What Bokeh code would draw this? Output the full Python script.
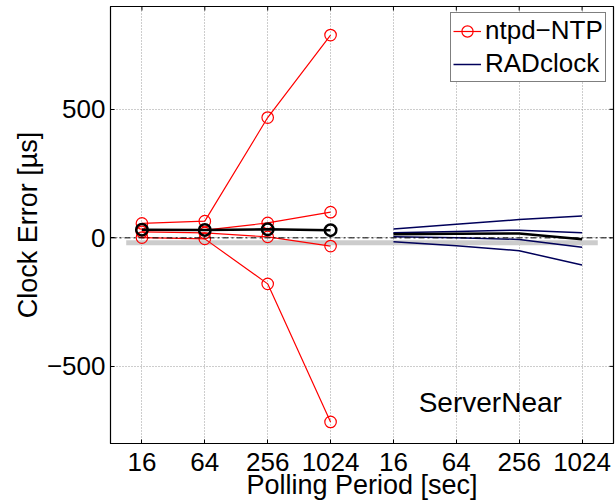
from bokeh.plotting import figure
from bokeh.models import FixedTicker, Legend, LegendItem, Span, Range1d, Label
from bokeh.embed import file_html
from bokeh.resources import INLINE

# ---- data ----
polling_labels = ["16", "64", "256", "1024", "16", "64", "256", "1024"]
x_positions = [1, 2, 3, 4, 5, 6, 7, 8]
ntpd_x = [1, 2, 3, 4]
rad_x = [5, 6, 7, 8]

ntpd_a = [56, 65, 468, 789]
ntpd_b = [30, 30, 58, 100]
ntpd_c = [23, 19, 4, -32]
ntpd_d = [1, -4, -179, -716]
ntpd_median = [32, 31, 33, 30]

rad_a = [34, 53, 71, 85]
rad_b = [20, 25, 30, 20]
rad_c = [4, 0, -6, -37]
rad_d = [-15, -31, -50, -106]
rad_median = [14, 16, 17, -5]

ref_x = [0.75, 8.25]
ref_y = [-19, -19]

y_ticks = [-500, 0, 500]
y_tick_labels = ["\u2212500", "0", "500"]

X_MIN, X_MAX = 0.5, 8.5
Y_MIN, Y_MAX = -800, 900

FONT = "Liberation Sans"
FS = "26px"
FS_TITLE = "27px"

p = figure(width=616, height=502, x_range=Range1d(X_MIN, X_MAX), y_range=Range1d(Y_MIN, Y_MAX),
           output_backend="svg", toolbar_location=None,
           min_border_left=110, min_border_right=3, min_border_top=6, min_border_bottom=59,
           x_axis_label="Polling Period [sec]", y_axis_label="Clock Error [\u00b5s]")
p.background_fill_color = "white"
p.border_fill_color = "white"
p.outline_line_color = "black"
p.outline_line_width = 1.2

xt = FixedTicker(ticks=x_positions)
yt = FixedTicker(ticks=y_ticks)

p.xaxis.ticker = xt
p.yaxis.ticker = yt
p.xaxis.major_label_overrides = {x: l for x, l in zip(x_positions, polling_labels)}
p.yaxis.major_label_overrides = {y: l for y, l in zip(y_ticks, y_tick_labels)}

for ax in (p.xaxis[0], p.yaxis[0]):
    ax.major_label_text_font = FONT
    ax.major_label_text_font_size = FS
    ax.major_label_text_color = "black"
    ax.axis_label_text_font = FONT
    ax.axis_label_text_font_size = FS_TITLE
    ax.axis_label_text_font_style = "normal"
    ax.axis_label_text_color = "black"
    ax.major_tick_in = 4
    ax.major_tick_out = 0
    ax.minor_tick_in = 0
    ax.minor_tick_out = 0
    ax.axis_line_color = "black"
    ax.major_tick_line_color = "black"
p.xaxis.major_label_standoff = 9
p.xaxis.axis_label_standoff = -4
p.yaxis.major_label_standoff = 5
p.yaxis.axis_label_standoff = 1

p.xgrid.ticker = xt
p.ygrid.ticker = yt
for g in (p.xgrid[0], p.ygrid[0]):
    g.grid_line_color = "#9a9a9a"
    g.grid_line_dash = "1 2"
    g.grid_line_width = 1

# inward tick marks on the top and right frame edges (derived from tick arrays)
tick_dy = (Y_MAX - Y_MIN) * 4 / 437
tick_dx = (X_MAX - X_MIN) * 4 / 503
p.segment(x0=x_positions, y0=[Y_MAX] * len(x_positions), x1=x_positions,
          y1=[Y_MAX - tick_dy] * len(x_positions), line_color="black", line_width=1)
p.segment(x0=[X_MAX] * len(y_ticks), y0=y_ticks, x1=[X_MAX - tick_dx] * len(y_ticks),
          y1=y_ticks, line_color="black", line_width=1)

# reference lines
p.line(ref_x, ref_y, line_color="#cccccc", line_width=5)
p.add_layout(Span(location=0, dimension="width", line_color="black", line_width=1,
                  line_dash="6 3 2 3"))

RED = "#ff0000"
NAVY = "#00005a"

red_line = None
red_sc = None
for ys in (ntpd_a, ntpd_b, ntpd_c, ntpd_d):
    rl = p.line(ntpd_x, ys, line_color=RED, line_width=1.2)
    rs = p.scatter(ntpd_x, ys, marker="circle", size=11.5, fill_alpha=0,
                   line_color=RED, line_width=1.2)
    if red_line is None:
        red_line, red_sc = rl, rs
p.line(ntpd_x, ntpd_median, line_color="black", line_width=2.5)
p.scatter(ntpd_x, ntpd_median, marker="circle", size=11.5, fill_alpha=0,
          line_color="black", line_width=2.5)

navy_line = None
for ys in (rad_a, rad_b, rad_c, rad_d):
    nl = p.line(rad_x, ys, line_color=NAVY, line_width=1.5)
    if navy_line is None:
        navy_line = nl
p.line(rad_x, rad_median, line_color="black", line_width=2.5)

p.add_layout(Label(x=6.54, y=-640, text="ServerNear", text_align="center",
                   text_baseline="middle", text_font=FONT, text_font_size="28px",
                   text_color="black"))

legend = Legend(items=[LegendItem(label="ntpd\u2212NTP", renderers=[red_line, red_sc]),
                       LegendItem(label="RADclock", renderers=[navy_line])],
                location=(340, 361))
legend.label_text_font = FONT
legend.label_text_font_size = FS
legend.label_text_color = "black"
legend.glyph_width = 28
legend.glyph_height = 28
legend.label_height = 28
legend.padding = 2
legend.spacing = 2
legend.margin = 0
legend.label_standoff = 4
legend.border_line_color = "black"
legend.border_line_width = 1
legend.background_fill_alpha = 1
p.add_layout(legend)

open("out.html", "w").write(file_html(p, INLINE))
